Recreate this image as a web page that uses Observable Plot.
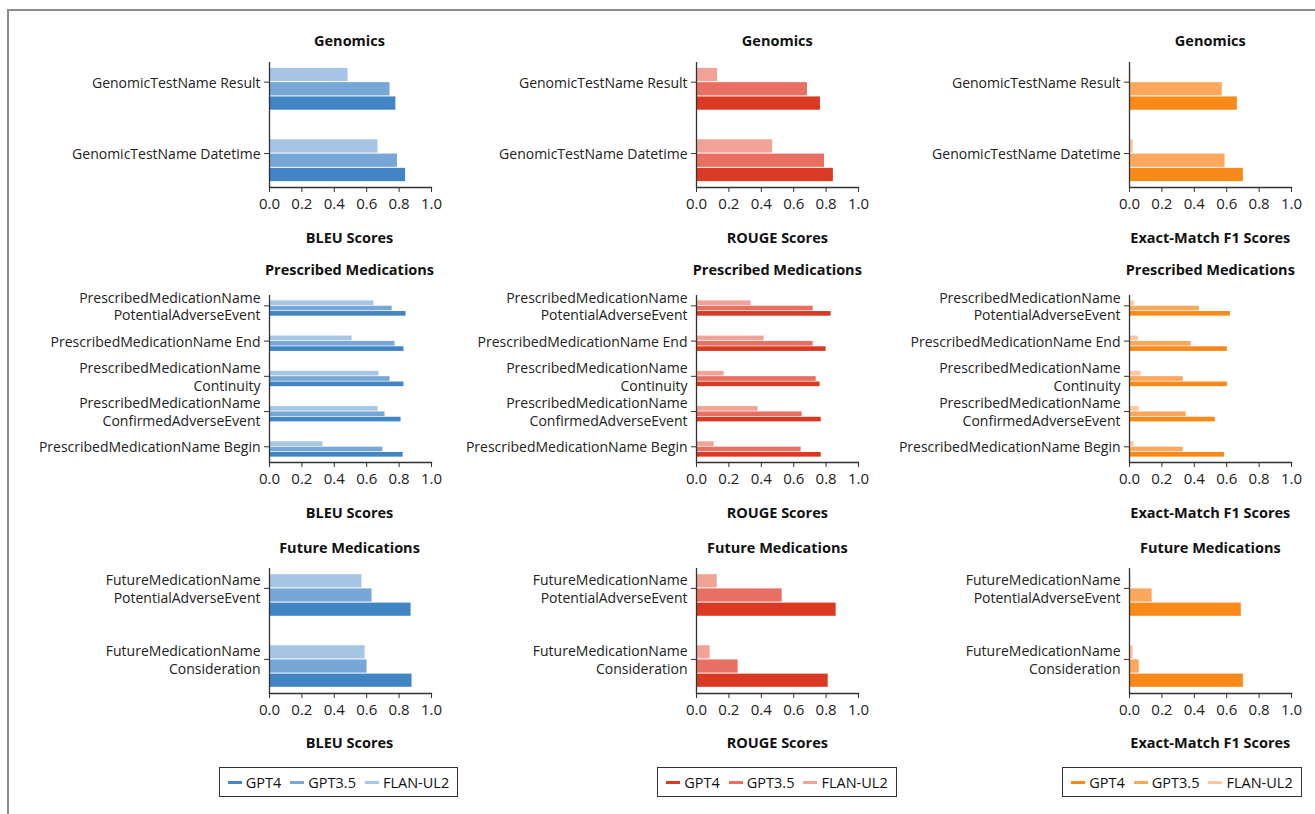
<!DOCTYPE html>
<html><head><meta charset="utf-8">
<script src="https://cdn.jsdelivr.net/npm/d3@7"></script>
<script src="https://cdn.jsdelivr.net/npm/@observablehq/plot@0.6"></script>
<style>
body{margin:0;background:#fff;font-family:"Open Sans",sans-serif;}
#root{position:relative;width:1315px;height:814px;overflow:hidden;background:#fff;}
.frame{position:absolute;left:7px;top:9px;width:1400px;height:900px;border-top:2px solid #8c8c8c;border-left:2px solid #8c8c8c;}
.lbl{position:absolute;font-weight:bold;font-size:14.5px;color:#111;transform:translate(-50%,-50%);white-space:nowrap;}
.panel{position:absolute;}
.legend{position:absolute;box-sizing:border-box;border:1px solid #333;display:flex;align-items:center;justify-content:center;gap:9px;font-size:14.5px;color:#111;height:30px;}
.item{display:flex;align-items:center;gap:4px;}
.sw{width:14px;height:3px;display:inline-block;}
</style></head>
<body><div id="root"><div class="frame"></div></div>
<script>
const models = ["GPT4", "GPT3.5", "FLAN-UL2"];
const sections = ["Genomics", "Prescribed Medications", "Future Medications"];
const metrics = ["BLEU Scores", "ROUGE Scores", "Exact-Match F1 Scores"];

const genomicsCats = ["GenomicTestName Result", "GenomicTestName Datetime"];
const prescribedCats = [
  "PrescribedMedicationName\nPotentialAdverseEvent",
  "PrescribedMedicationName End",
  "PrescribedMedicationName\nContinuity",
  "PrescribedMedicationName\nConfirmedAdverseEvent",
  "PrescribedMedicationName Begin"
];
const futureCats = ["FutureMedicationName\nPotentialAdverseEvent", "FutureMedicationName\nConsideration"];

// each row: [GPT4, GPT3.5, FLAN-UL2], rows follow the category order
const genomicsBleu = [[0.78, 0.744, 0.485], [0.84, 0.79, 0.67]];
const genomicsRouge = [[0.765, 0.685, 0.13], [0.845, 0.79, 0.47]];
const genomicsEm = [[0.666, 0.573, 0.01], [0.703, 0.59, 0.023]];

const prescribedBleu = [[0.843, 0.757, 0.645], [0.83, 0.775, 0.51], [0.83, 0.744, 0.676], [0.812, 0.713, 0.67], [0.825, 0.70, 0.33]];
const prescribedRouge = [[0.831, 0.72, 0.337], [0.80, 0.72, 0.418], [0.763, 0.739, 0.171], [0.77, 0.652, 0.38], [0.77, 0.646, 0.109]];
const prescribedEm = [[0.623, 0.431, 0.029], [0.604, 0.381, 0.054], [0.604, 0.332, 0.072], [0.53, 0.35, 0.06], [0.586, 0.332, 0.029]];

const futureBleu = [[0.874, 0.633, 0.571], [0.88, 0.602, 0.59]];
const futureRouge = [[0.862, 0.529, 0.128], [0.813, 0.257, 0.084]];
const futureEm = [[0.69, 0.14, 0.01], [0.703, 0.06, 0.023]];

const xTicks = [0, 0.2, 0.4, 0.6, 0.8, 1.0];

const bluePalette = ["#4285c5", "#77a7d7", "#a7c6e5"];
const redPalette = ["#da3a24", "#e86f61", "#f2a398"];
const orangePalette = ["#f98a19", "#fca85c", "#fdc8a0"];

const root = document.getElementById("root");
const FONT = '"Open Sans", sans-serif';

function addLabel(text, cx, cy) {
  const d = document.createElement("div");
  d.className = "lbl"; d.textContent = text;
  d.style.left = cx + "px"; d.style.top = cy + "px";
  root.appendChild(d);
}

function panel({cats, vals, colors, frameLeft, frameTop, frameH, pi, po, inset}) {
  const mT = 7, mB = 30, mL = 262, mR = 14, frameW = 162;
  const height = mT + frameH + mB;
  const n = cats.length;
  const step = frameH / (n - pi + 2 * po);
  const bw = step * (1 - pi);
  const slot = bw / 3;
  const slotOf = {"FLAN-UL2": 0, "GPT3.5": 1, "GPT4": 2};
  const rows = [];
  cats.forEach((c, ci) => models.forEach((m, mi) => rows.push({cat: c, model: m, value: vals[ci][mi]})));
  const bars = models.map((m, mi) => {
    const s = slotOf[m];
    return Plot.barX(rows.filter(d => d.model === m), {
      x: "value", y: "cat", fill: colors[mi],
      insetTop: s * slot + inset, insetBottom: (2 - s) * slot + inset
    });
  });
  const svg = Plot.plot({
    width: mL + frameW + mR, height,
    marginTop: mT, marginBottom: mB, marginLeft: mL, marginRight: mR,
    style: {background: "transparent", fontFamily: FONT, fontSize: "14px", color: "#222", overflow: "visible"},
    x: {domain: [0, 1]},
    y: {domain: cats, paddingInner: pi, paddingOuter: po, round: false},
    marks: [
      ...bars,
      Plot.ruleX([0], {stroke: "#333", strokeWidth: 1.3}),
      Plot.frame({anchor: "bottom", stroke: "#333", strokeWidth: 1.3}),
      Plot.axisX({ticks: xTicks, tickFormat: d => d.toFixed(1), tickSize: 5, tickPadding: 6, fontSize: 15, label: null, stroke: "#333"}),
      Plot.axisY({tickSize: 5, tickPadding: 4, dy: -slot / 2, fontSize: 14, lineHeight: 1.257, label: null, stroke: "#333"})
    ]
  });
  const wrap = document.createElement("div");
  wrap.className = "panel";
  wrap.style.left = (frameLeft - mL) + "px";
  wrap.style.top = (frameTop - mT) + "px";
  wrap.appendChild(svg);
  root.appendChild(wrap);
}

const colFrameLeft = [268.5, 696.3, 1129.3];
const colCenter = colFrameLeft.map(l => l + 81);
const palettes = [bluePalette, redPalette, orangePalette];
const rowSpec = [
  {cats: genomicsCats, data: [genomicsBleu, genomicsRouge, genomicsEm], frameTop: 62, frameH: 125, pi: 0.4, po: 0.075, inset: 0.5, titleY: 40, xlabY: 237},
  {cats: prescribedCats, data: [prescribedBleu, prescribedRouge, prescribedEm], frameTop: 295, frameH: 167, pi: 0.545, po: 0.142, inset: 0.35, titleY: 269, xlabY: 512},
  {cats: futureCats, data: [futureBleu, futureRouge, futureEm], frameTop: 568, frameH: 125, pi: 0.4, po: 0.08, inset: 0.5, titleY: 547, xlabY: 742}
];

rowSpec.forEach((r, ri) => {
  for (let c = 0; c < 3; c++) {
    panel({cats: r.cats, vals: r.data[c], colors: palettes[c], frameLeft: colFrameLeft[c], frameTop: r.frameTop, frameH: r.frameH, pi: r.pi, po: r.po, inset: r.inset});
    addLabel(sections[ri], colCenter[c], r.titleY);
    addLabel(metrics[c], colCenter[c], r.xlabY);
  }
});

// legends
const legendBoxes = [{left: 219, width: 239}, {left: 657, width: 240}, {left: 1062, width: 240}];
legendBoxes.forEach((b, c) => {
  const lg = document.createElement("div");
  lg.className = "legend";
  lg.style.left = b.left + "px"; lg.style.top = "767px"; lg.style.width = b.width + "px";
  models.forEach((m, mi) => {
    const it = document.createElement("div"); it.className = "item";
    const sw = document.createElement("span"); sw.className = "sw"; sw.style.background = palettes[c][mi];
    const t = document.createElement("span"); t.textContent = m;
    it.appendChild(sw); it.appendChild(t); lg.appendChild(it);
  });
  root.appendChild(lg);
});
</script></body></html>
